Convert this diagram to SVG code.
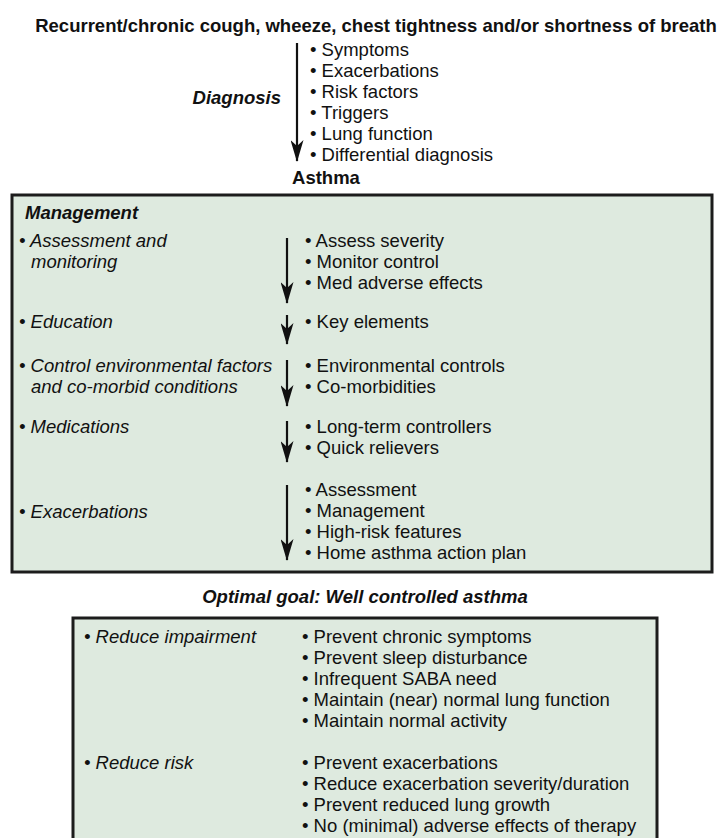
<svg xmlns="http://www.w3.org/2000/svg" width="724" height="838" viewBox="0 0 724 838">
<style>
text{font-family:"Liberation Sans",Arial,Helvetica,sans-serif;font-size:18.5px;fill:#111}
.b{font-weight:bold}
.bi{font-weight:bold;font-style:italic}
.i{font-style:italic}
.box{fill:#deeadf;stroke:#1c1c1c;stroke-width:3}
.arr{stroke:#111;stroke-width:2.2;fill:none;marker-end:url(#ah)}
</style>
<defs>
<marker id="ah" viewBox="0 0 22 13" refX="21" refY="6.5" markerWidth="22" markerHeight="13" orient="auto" markerUnits="userSpaceOnUse">
<path d="M0,0 L22,6.5 L0,13 L6,6.5 z" fill="#111"/>
</marker>
</defs>
<rect width="724" height="838" fill="#fff"/>
<g id="symptoms-node">
<text class="b" x="376" y="32" text-anchor="middle">Recurrent/chronic cough, wheeze, chest tightness and/or shortness of breath</text>
</g>
<g id="diagnosis-node">
<text class="bi" x="281" y="104" text-anchor="end">Diagnosis</text>
<text x="310" y="56">• Symptoms</text>
<text x="310" y="77">• Exacerbations</text>
<text x="310" y="98">• Risk factors</text>
<text x="310" y="119">• Triggers</text>
<text x="310" y="140">• Lung function</text>
<text x="310" y="161">• Differential diagnosis</text>
</g>
<g id="asthma-node">
<text class="b" x="326" y="184" text-anchor="middle">Asthma</text>
</g>
<g id="management-node">
<rect class="box" x="12" y="195" width="700" height="377"/>
<text class="bi" x="25" y="219">Management</text>
<text class="i" x="19" y="247">• Assessment and</text>
<text class="i" x="31" y="268">monitoring</text>
<text x="305" y="247">• Assess severity</text>
<text x="305" y="268">• Monitor control</text>
<text x="305" y="289">• Med adverse effects</text>
<text class="i" x="19" y="328">• Education</text>
<text x="305" y="328">• Key elements</text>
<text class="i" x="19" y="372">• Control environmental factors</text>
<text class="i" x="31" y="393">and co-morbid conditions</text>
<text x="305" y="372">• Environmental controls</text>
<text x="305" y="393">• Co-morbidities</text>
<text class="i" x="19" y="433">• Medications</text>
<text x="305" y="433">• Long-term controllers</text>
<text x="305" y="454">• Quick relievers</text>
<text class="i" x="19" y="518">• Exacerbations</text>
<text x="305" y="496">• Assessment</text>
<text x="305" y="517">• Management</text>
<text x="305" y="538">• High-risk features</text>
<text x="305" y="559">• Home asthma action plan</text>
</g>
<g id="goal-node">
<text class="bi" x="365" y="603" text-anchor="middle">Optimal goal: Well controlled asthma</text>
<rect class="box" x="73" y="618" width="584" height="240"/>
<text class="i" x="84" y="643">• Reduce impairment</text>
<text x="302" y="643">• Prevent chronic symptoms</text>
<text x="302" y="664">• Prevent sleep disturbance</text>
<text x="302" y="685">• Infrequent SABA need</text>
<text x="302" y="706">• Maintain (near) normal lung function</text>
<text x="302" y="727">• Maintain normal activity</text>
<text class="i" x="84" y="769">• Reduce risk</text>
<text x="302" y="769">• Prevent exacerbations</text>
<text x="302" y="790">• Reduce exacerbation severity/duration</text>
<text x="302" y="811">• Prevent reduced lung growth</text>
<text x="302" y="832">• No (minimal) adverse effects of therapy</text>
</g>
<g id="connectors">
<path class="arr" d="M297,43 V161"/>
<path class="arr" d="M287,238 V303"/>
<path class="arr" d="M287,315 V344"/>
<path class="arr" d="M287,360 V406"/>
<path class="arr" d="M287,421 V462"/>
<path class="arr" d="M287,485 V560"/>
</g>
</svg>
